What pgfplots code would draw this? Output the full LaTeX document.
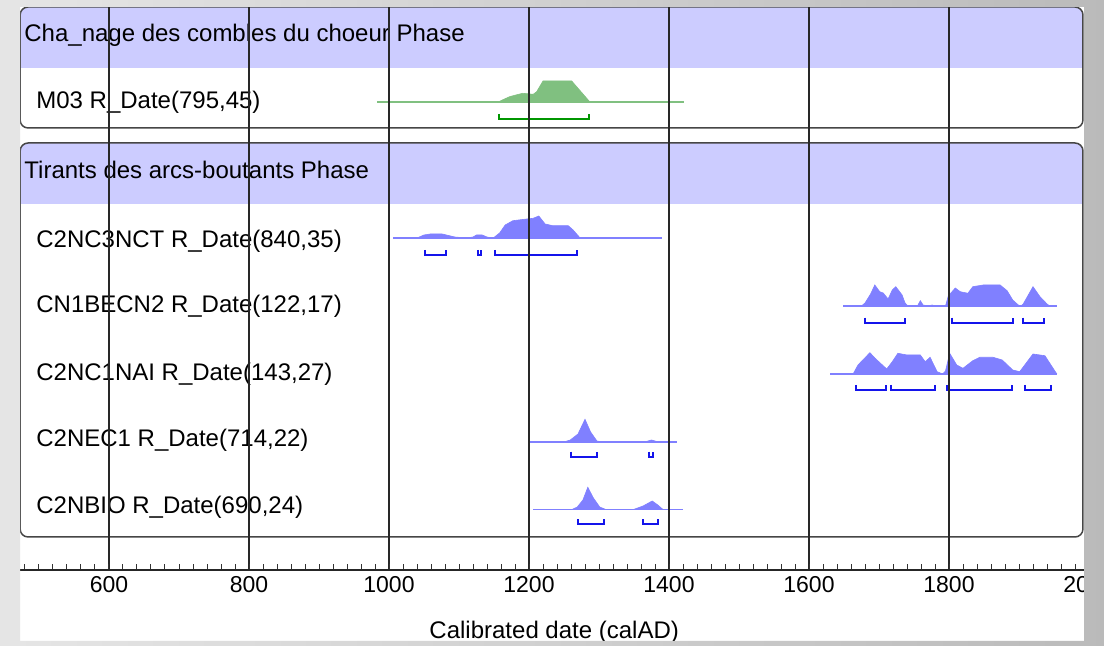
\documentclass[border=0pt]{standalone}
\usepackage{pgfplots}
\pgfplotsset{compat=1.18}
\usepackage{fontspec}
\setmainfont{Liberation Sans}
\definecolor{lav}{RGB}{204,204,255}
\definecolor{dfill}{RGB}{128,128,255}
\definecolor{brk}{RGB}{20,20,235}
\definecolor{gfill}{RGB}{128,192,128}
\definecolor{gbrk}{RGB}{0,150,0}
\definecolor{gridc}{RGB}{40,40,40}
\definecolor{boxc}{RGB}{70,70,70}
\tikzset{lbl/.style={font=\fontsize{12}{14}\selectfont, anchor=west, inner sep=0pt}}
\begin{document}
\begin{tikzpicture}
\useasboundingbox (0,0) rectangle (552pt,323pt);
\fill[white] (0,0) rectangle (552pt,323pt);
\begin{axis}[
 at={(10pt,38pt)}, anchor=south west,
 scale only axis, width=541.5pt, height=281.5pt,
 xmin=472.857, xmax=2020, ymin=76, ymax=639,
 axis x line=bottom, axis y line=none,
 x axis line style={-, line width=0.8pt, color=black!85},
 xtick={600,800,...,2000}, minor xtick={480,500,...,2020},
 xtick align=inside, major tick length=3pt, minor tick length=3pt,
 tick style={black!80, line width=0.5pt},
 xmajorgrids, grid style={gridc, line width=0.65pt},
 axis on top, clip=false,
 xticklabel style={font=\fontsize{11.5}{13}\selectfont, yshift=0.5pt},
 /pgf/number format/assume math mode=true,
 /pgf/number format/1000 sep={},
]
% ---- group boxes ----
\fill[lav, rounded corners=4pt] (473,578) rectangle (1991.4,639);
\fill[lav] (473,578) rectangle (1991.4,600);
\draw[boxc, line width=0.75pt, rounded corners=4pt] (473,518) rectangle (1991.4,639);
\fill[lav, rounded corners=4pt] (473,442) rectangle (1991.4,503);
\fill[lav] (473,442) rectangle (1991.4,470);
\draw[boxc, line width=0.75pt, rounded corners=4pt] (473,109) rectangle (1991.4,503);
% ---- labels ----
\node[lbl] at (478.6,611) {Cha\_nage des combles du choeur Phase};
\node[lbl] at (495.7,544) {M03 R\_Date(795,45)};
\node[lbl] at (478.6,476) {Tirants des arcs-boutants Phase};
\node[lbl] at (495.7,405) {C2NC3NCT R\_Date(840,35)};
\node[lbl] at (495.7,340) {CN1BECN2 R\_Date(122,17)};
\node[lbl] at (495.7,272) {C2NC1NAI R\_Date(143,27)};
\node[lbl] at (495.7,206) {C2NEC1 R\_Date(714,22)};
\node[lbl] at (495.7,139) {C2NBIO R\_Date(690,24)};
\node[font=\fontsize{12}{14}\selectfont] at (1236,14) {Calibrated date (calAD)};
% ---- M03 ----
\addplot[gfill, line width=0.6pt] coordinates {(983,544)(1421,544)};
\addplot[fill=gfill, draw=gfill, line width=0.3pt] coordinates {(1156,544)(1165,547)(1173,549.5)(1191,552.7)(1206,551.7)(1211,554.3)(1220,565)(1261,565)(1287,544)};
\addplot[gbrk, line width=1pt] coordinates {(1157,532)(1157,527)(1286,527)(1286,532)};
% ---- C2NC3NCT ----
\addplot[dfill, line width=0.6pt] coordinates {(1006,408)(1390,408)};
\addplot[fill=dfill, draw=dfill, line width=0.3pt] coordinates {(1040,408)(1050,411)(1059,412)(1076,412)(1094,409)(1110,408)(1120,409)(1125,411)(1133,411)(1140,409)(1146,408)(1149,408)(1158,413)(1166,421)(1177,425.3)(1197,427)(1206,427.7)(1214,430)(1223,422)(1234,420.3)(1256,420.3)(1263,416)(1273,408)};
\addplot[brk, line width=1pt] coordinates {(1051,396)(1051,391)(1081,391)(1081,396)};
\addplot[brk, line width=1pt] coordinates {(1127,396)(1127,391)(1131,391)(1131,396)};
\addplot[brk, line width=1pt] coordinates {(1151,396)(1151,391)(1269,391)(1269,396)};
% ---- CN1BECN2 ----
\addplot[dfill, line width=0.6pt] coordinates {(1649,340)(1954,340)};
\addplot[fill=dfill, draw=dfill, line width=0.3pt] coordinates {(1675,340)(1680,343)(1688,352)(1694,361)(1701,354.3)(1706,353)(1713,347)(1719,356)(1724,359.3)(1733,351)(1737,343.3)(1741,340)(1755,340)(1759,345.3)(1763,341)(1770,340)(1776,341)(1780,340)(1795,340)(1799,350)(1809,358)(1816,354.3)(1827,352.7)(1834,359.3)(1849,361)(1873,361)(1883,355.3)(1891,346)(1899,341)(1903,340)(1906,342)(1920,359.3)(1930,349.3)(1940,342)(1944,340)};
\addplot[brk, line width=1pt] coordinates {(1680,328.3)(1680,323.3)(1737,323.3)(1737,328.3)};
\addplot[brk, line width=1pt] coordinates {(1804,328.3)(1804,323.3)(1891,323.3)(1891,328.3)};
\addplot[brk, line width=1pt] coordinates {(1906,328.3)(1906,323.3)(1936,323.3)(1936,328.3)};
% ---- C2NC1NAI ----
\addplot[dfill, line width=0.6pt] coordinates {(1630,272)(1954,272)};
\addplot[fill=dfill, draw=dfill, line width=0.3pt] coordinates {(1663,272)(1670,281)(1687,293.3)(1694,288)(1711,277)(1719,284.3)(1727,292.7)(1740,291)(1759,291)(1766,284.3)(1773,288.7)(1783,274.3)(1791,272)(1795,275)(1801,292.7)(1811,281)(1820,277.7)(1834,285.3)(1844,288.7)(1863,288.7)(1876,286)(1891,276)(1901,274.3)(1920,292)(1937,290.3)(1954,272)};
\addplot[brk, line width=1pt] coordinates {(1667,261)(1667,256)(1710,256)(1710,261)};
\addplot[brk, line width=1pt] coordinates {(1717,261)(1717,256)(1780,256)(1780,261)};
\addplot[brk, line width=1pt] coordinates {(1797,261)(1797,256)(1890,256)(1890,261)};
\addplot[brk, line width=1pt] coordinates {(1909,261)(1909,256)(1946,256)(1946,261)};
% ---- C2NEC1 ----
\addplot[dfill, line width=0.6pt] coordinates {(1200,204)(1411,204)};
\addplot[fill=dfill, draw=dfill, line width=0.3pt] coordinates {(1250,204)(1259,206)(1270,212)(1280,226.7)(1288,214)(1297,205)(1305,204)};
\addplot[fill=dfill, draw=dfill, line width=0.3pt] coordinates {(1365,204)(1375,206)(1385,204)};
\addplot[brk, line width=1pt] coordinates {(1260,194.3)(1260,189.3)(1297,189.3)(1297,194.3)};
\addplot[brk, line width=1pt] coordinates {(1371,194.3)(1371,189.3)(1377,189.3)(1377,194.3)};
% ---- C2NBIO ----
\addplot[dfill, line width=0.6pt] coordinates {(1206,136.7)(1420,136.7)};
\addplot[fill=dfill, draw=dfill, line width=0.3pt] coordinates {(1262,136.7)(1269,139)(1277,146)(1284,158.7)(1292,148)(1301,139)(1309,136.7)};
\addplot[fill=dfill, draw=dfill, line width=0.3pt] coordinates {(1350,136.7)(1363,140)(1376,145)(1384,141)(1391,136.7)};
\addplot[brk, line width=1pt] coordinates {(1270,126.7)(1270,121.7)(1307,121.7)(1307,126.7)};
\addplot[brk, line width=1pt] coordinates {(1363,126.7)(1363,121.7)(1384,121.7)(1384,126.7)};
\end{axis}
\shade[even odd rule, left color=black!10, right color=black!27] (0,0) rectangle (552pt,323pt) (10pt,2.5pt) rectangle (542pt,319.5pt);
\end{tikzpicture}
\end{document}
